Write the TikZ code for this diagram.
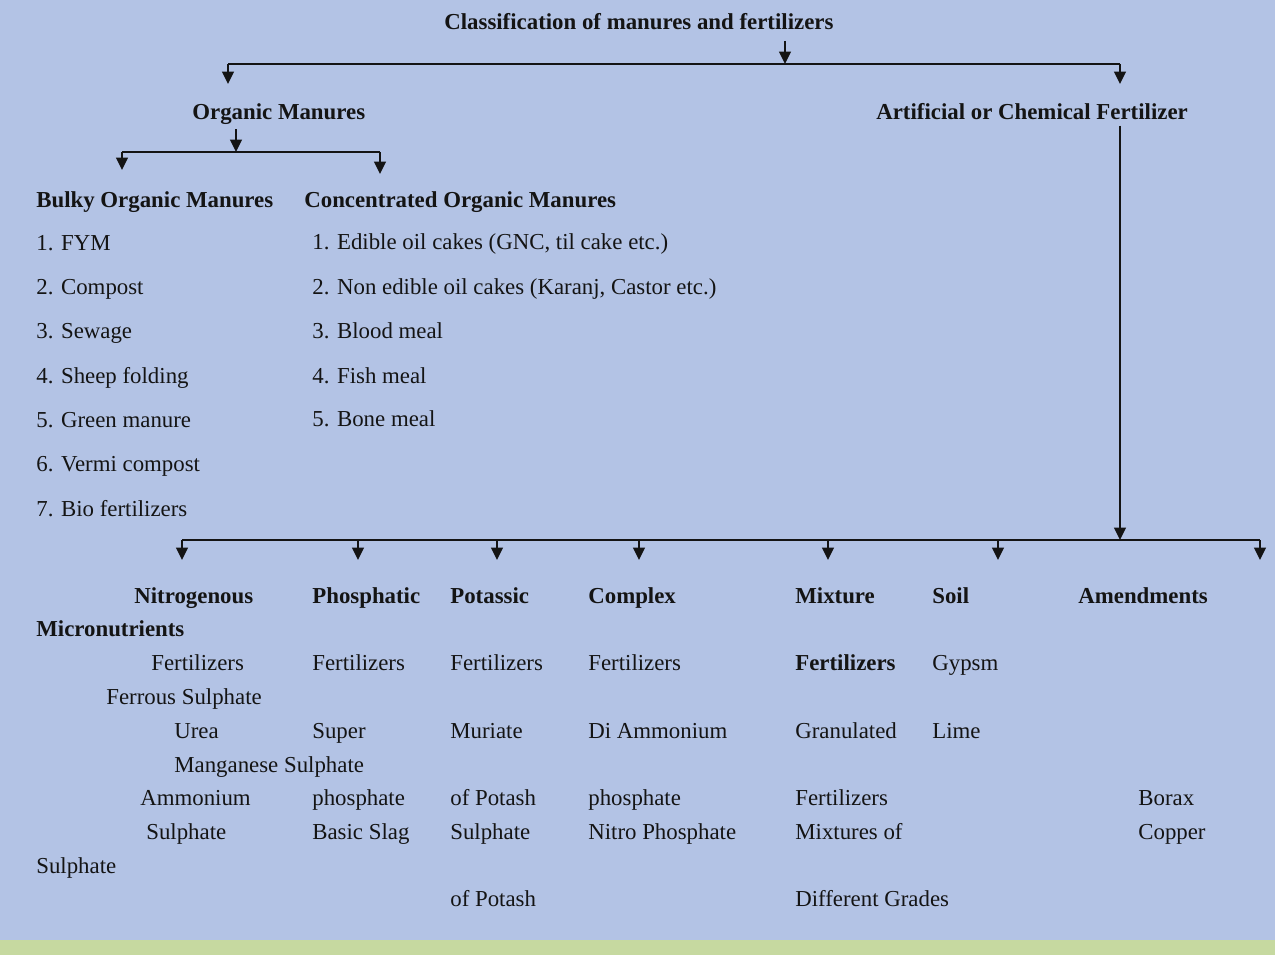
\documentclass[tikz,border=0pt]{standalone}
\usepackage{fontspec}
\setmainfont{Liberation Serif}
\usetikzlibrary{arrows.meta}
\definecolor{bgblue}{HTML}{B3C3E5}
\definecolor{stripgreen}{HTML}{C6D9A0}
\definecolor{ink}{HTML}{141414}
\tikzset{
  txt/.style={anchor=west, inner sep=0pt, text height=12pt, text depth=3pt,
    text=ink, font=\fontsize{13}{15}\selectfont},
  hd/.style={txt, font=\fontsize{13}{15}\selectfont\bfseries},
  ln/.style={draw=ink, line width=1.5pt},
  arr/.style={ln, -{Triangle[length=7pt,width=6.5pt]}},
}
\begin{document}
\begin{tikzpicture}[x=0.02cm,y=-0.02cm]
    % background and bottom strip
    \fill[bgblue] (0,0) rectangle (1275,955);
    \fill[stripgreen] (0,940) rectangle (1275,955);
    \useasboundingbox (0,0) rectangle (1275,955);

    % top level
    \node[hd] (title) at (444,22) {Classification of manures and fertilizers};
    \coordinate (tj) at (785,64);
    \coordinate (tl) at (228,64);
    \coordinate (tr) at (1120,64);
    \draw[arr] ([yshift=-3pt]title.south -| tj) -- (tj);
    \draw[ln] (tl) -- (tr);
    \draw[arr] (tl) -- ++(0,20);
    \draw[arr] (tr) -- ++(0,20);

    \node[hd] (om) at (192,112) {Organic Manures};
    \node[hd] (acf) at (876,112) {Artificial or Chemical Fertilizer};

    % organic manures branch
    \coordinate (oj) at (236,152);
    \coordinate (ol) at (122,152);
    \coordinate (or) at (380,152);
    \draw[arr] ([yshift=-2pt]om.south -| oj) -- (oj);
    \draw[ln] (ol) -- (or);
    \draw[arr] (ol) -- ++(0,18);
    \draw[arr] (or) -- ++(0,22);

    \node[hd] (bulky) at (36,200) {Bulky Organic Manures};
    \node[hd] (conc) at (304,200) {Concentrated Organic Manures};

    \foreach \t [count=\i] in {FYM, Compost, Sewage, Sheep folding, Green manure, Vermi compost, Bio fertilizers}
      \node[txt] (b\i) at (36,198+44.3*\i) {\i. \t};
    \node[txt] (c1) at (312,242) {1. Edible oil cakes (GNC, til cake etc.)};
    \node[txt] (c2) at (312,287) {2. Non edible oil cakes (Karanj, Castor etc.)};
    \node[txt] (c3) at (312,331) {3. Blood meal};
    \node[txt] (c4) at (312,376) {4. Fish meal};
    \node[txt] (c5) at (312,419) {5. Bone meal};

    % chemical fertilizer branch
    \coordinate (fj) at (1120,540);
    \coordinate (fl) at (182,540);
    \coordinate (fr) at (1260,540);
    \draw[arr] (acf.south -| fj) -- (fj);
    \draw[ln] (fl) -- (fr);
    \foreach \x in {182,358,497,639,828,998,1260}
      \draw[arr] (\x,540) -- (\x,560);

    % fertilizer groups
    \node[hd] (nit) at (134,596) {Nitrogenous};
    \node[hd] (pho) at (312,596) {Phosphatic};
    \node[hd] (pot) at (450,596) {Potassic};
    \node[hd] (cpx) at (588,596) {Complex};
    \node[hd] (mix) at (795,596) {Mixture};
    \node[hd] (soil) at (932,596) {Soil};
    \node[hd] (amd) at (1078,596) {Amendments};
    \node[hd] (mic) at (36,629) {Micronutrients};

    \node[txt] at (151,663) {Fertilizers};
    \node[txt] at (312,663) {Fertilizers};
    \node[txt] at (450,663) {Fertilizers};
    \node[txt] at (588,663) {Fertilizers};
    \node[hd] at (795,663) {Fertilizers};
    \node[txt] at (932,663) {Gypsm};

    \node[txt] at (106,697) {Ferrous Sulphate};

    \node[txt] at (174,731) {Urea};
    \node[txt] at (312,731) {Super};
    \node[txt] at (450,731) {Muriate};
    \node[txt] at (588,731) {Di Ammonium};
    \node[txt] at (795,731) {Granulated};
    \node[txt] at (932,731) {Lime};

    \node[txt] at (174,765) {Manganese Sulphate};

    \node[txt] at (140,798) {Ammonium};
    \node[txt] at (312,798) {phosphate};
    \node[txt] at (450,798) {of Potash};
    \node[txt] at (588,798) {phosphate};
    \node[txt] at (795,798) {Fertilizers};
    \node[txt] at (1138,798) {Borax};

    \node[txt] at (146,832) {Sulphate};
    \node[txt] at (312,832) {Basic Slag};
    \node[txt] at (450,832) {Sulphate};
    \node[txt] at (588,832) {Nitro Phosphate};
    \node[txt] at (795,832) {Mixtures of};
    \node[txt] at (1138,832) {Copper};

    \node[txt] at (36,866) {Sulphate};

    \node[txt] at (450,899) {of Potash};
    \node[txt] at (795,899) {Different Grades};
\end{tikzpicture}
\end{document}
